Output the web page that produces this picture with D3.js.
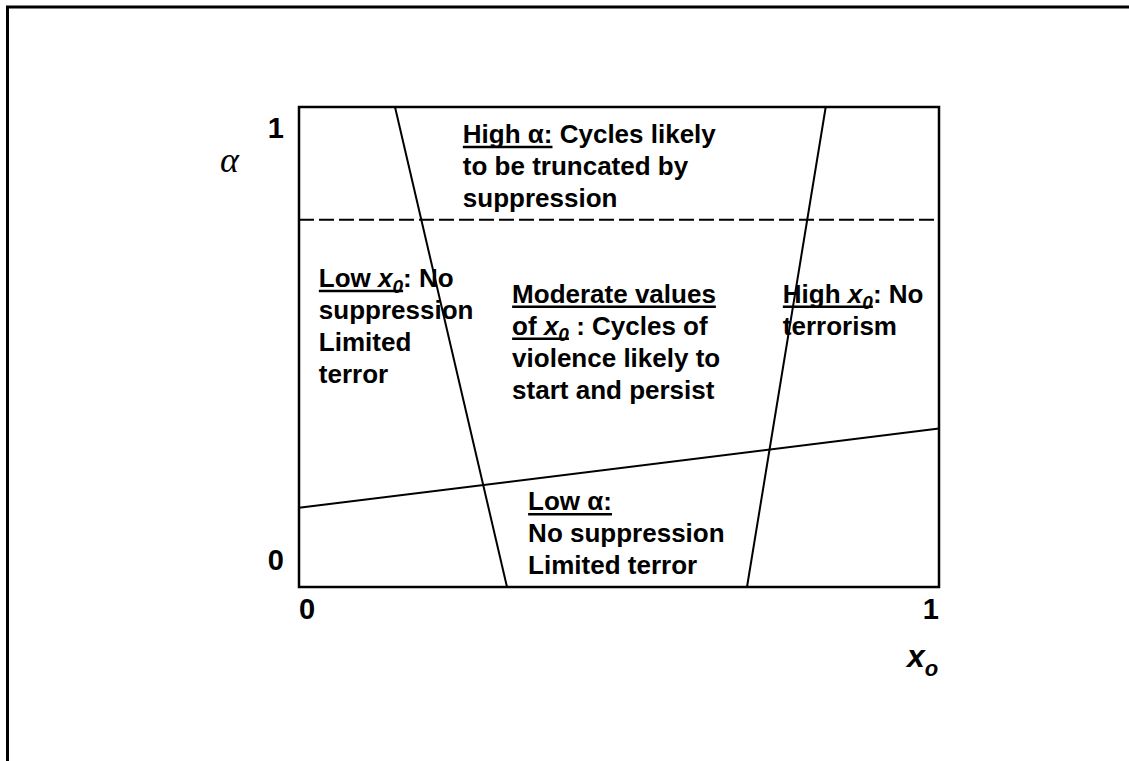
<!DOCTYPE html>
<html>
<head>
<meta charset="utf-8">
<script src="https://cdn.jsdelivr.net/npm/d3@7"></script>
<style>
  body { margin: 0; background: #fff; }
  text { font-family: "Liberation Sans", Arial, sans-serif; font-weight: bold; fill: #000; }
</style>
</head>
<body>
<div id="chart"></div>
<script>
// region boundaries in (x0, alpha) units
const leftBoundary = [[0.15, 1], [0.325, 0]];
const rightBoundary = [[0.823, 1], [0.70, 0]];
const lowAlphaBoundary = [[0, 0.165], [1, 0.33]];
const highAlphaLevel = 0.765;

const xTicks = [0, 1];
const yTicks = [0, 1];

// region labels: each line is a list of segments [text, style]
// style: "u" underline, "i" italic, "s" subscript (combine letters)
const regionLabels = [
  { x: 0.256, y: 0.925, lines: [
      [["High α:", "u"], [" Cycles likely", ""]],
      [["to be truncated by", ""]],
      [["suppression", ""]]
  ]},
  { x: 0.031, y: 0.625, lines: [
      [["Low ", "u"], ["x", "ui"], ["0", "uis"], [": No", ""]],
      [["suppression", ""]],
      [["Limited", ""]],
      [["terror", ""]]
  ]},
  { x: 0.333, y: 0.592, lines: [
      [["Moderate values", "u"]],
      [["of ", "u"], ["x", "ui"], ["0", "uis"], [" : Cycles of", ""]],
      [["violence likely to", ""]],
      [["start and persist", ""]]
  ]},
  { x: 0.756, y: 0.592, lines: [
      [["High ", "u"], ["x", "ui"], ["0", "uis"], [": No", ""]],
      [["terrorism", ""]]
  ]},
  { x: 0.358, y: 0.16, lines: [
      [["Low α:", "u"]],
      [["No suppression", ""]],
      [["Limited terror", ""]]
  ]}
];

const width = 1129, height = 761;
const box = { left: 299, right: 939, top: 107, bottom: 587 };
const lineStep = 32;

const svg = d3.select("#chart").append("svg")
  .attr("width", width)
  .attr("height", height);

// page frame (top and left edges only)
svg.append("line").attr("x1", 6).attr("x2", width).attr("y1", 7).attr("y2", 7)
  .attr("stroke", "#000").attr("stroke-width", 3);
svg.append("line").attr("x1", 7.5).attr("x2", 7.5).attr("y1", 6).attr("y2", height)
  .attr("stroke", "#000").attr("stroke-width", 3);

const x = d3.scaleLinear().domain([0, 1]).range([box.left, box.right]);
const y = d3.scaleLinear().domain([0, 1]).range([box.bottom, box.top]);

const line = d3.line().x(d => x(d[0])).y(d => y(d[1]));

// boundary lines
[leftBoundary, rightBoundary, lowAlphaBoundary].forEach(b => {
  svg.append("path").attr("d", line(b))
    .attr("fill", "none").attr("stroke", "#000").attr("stroke-width", 2);
});

// high alpha dashed threshold
svg.append("path").attr("d", line([[0, highAlphaLevel], [1, highAlphaLevel]]))
  .attr("fill", "none").attr("stroke", "#000").attr("stroke-width", 2)
  .attr("stroke-dasharray", "15,5");

// plot box
svg.append("rect")
  .attr("x", x(0)).attr("y", y(1))
  .attr("width", x(1) - x(0)).attr("height", y(0) - y(1))
  .attr("fill", "none").attr("stroke", "#000").attr("stroke-width", 2.5);

// tick labels
svg.selectAll(".ytick").data(yTicks).join("text")
  .attr("class", "ytick")
  .attr("x", x(0) - 15)
  .attr("y", d => d === 1 ? y(d) + 31 : y(d) - 17)
  .attr("text-anchor", "end")
  .style("font-size", "29px")
  .text(d => d);

svg.selectAll(".xtick").data(xTicks).join("text")
  .attr("class", "xtick")
  .attr("x", d => x(d))
  .attr("y", y(0) + 32)
  .attr("text-anchor", d => d === 0 ? "start" : "end")
  .style("font-size", "29px")
  .text(d => d);

// axis titles
svg.append("text")
  .attr("x", 220).attr("y", 172)
  .style("font-family", "'Liberation Serif', 'Times New Roman', serif")
  .style("font-weight", "normal")
  .style("font-style", "italic")
  .style("font-size", "36px")
  .text("α");

const xt = svg.append("text").attr("x", 907).attr("y", 667)
  .style("font-style", "italic").style("font-size", "32px");
xt.append("tspan").text("x");
xt.append("tspan").attr("y", 676).style("font-size", "22px").text("o");

// region labels
regionLabels.forEach(lab => {
  const x0 = x(lab.x);
  lab.lines.forEach((segs, i) => {
    const base = y(lab.y) + i * lineStep;
    const t = svg.append("text").attr("x", x0).attr("y", base).style("font-size", "26px");
    const ranges = [];
    let idx = 0;
    segs.forEach(([txt, st]) => {
      const ts = t.append("tspan").text(txt)
        .attr("y", st.includes("s") ? base + 6 : base);
      if (st.includes("i")) ts.style("font-style", "italic");
      if (st.includes("s")) ts.style("font-size", "19px");
      if (st.includes("u")) ranges.push([idx, idx + txt.length - 1]);
      idx += txt.length;
    });
    // underline runs
    const node = t.node();
    if (ranges.length) {
      const start = node.getStartPositionOfChar(ranges[0][0]).x;
      const end = node.getEndPositionOfChar(ranges[ranges.length - 1][1]).x;
      svg.append("line")
        .attr("x1", start).attr("x2", end)
        .attr("y1", base + 4).attr("y2", base + 4)
        .attr("stroke", "#000").attr("stroke-width", 2.5);
    }
  });
});
</script>
</body>
</html>
